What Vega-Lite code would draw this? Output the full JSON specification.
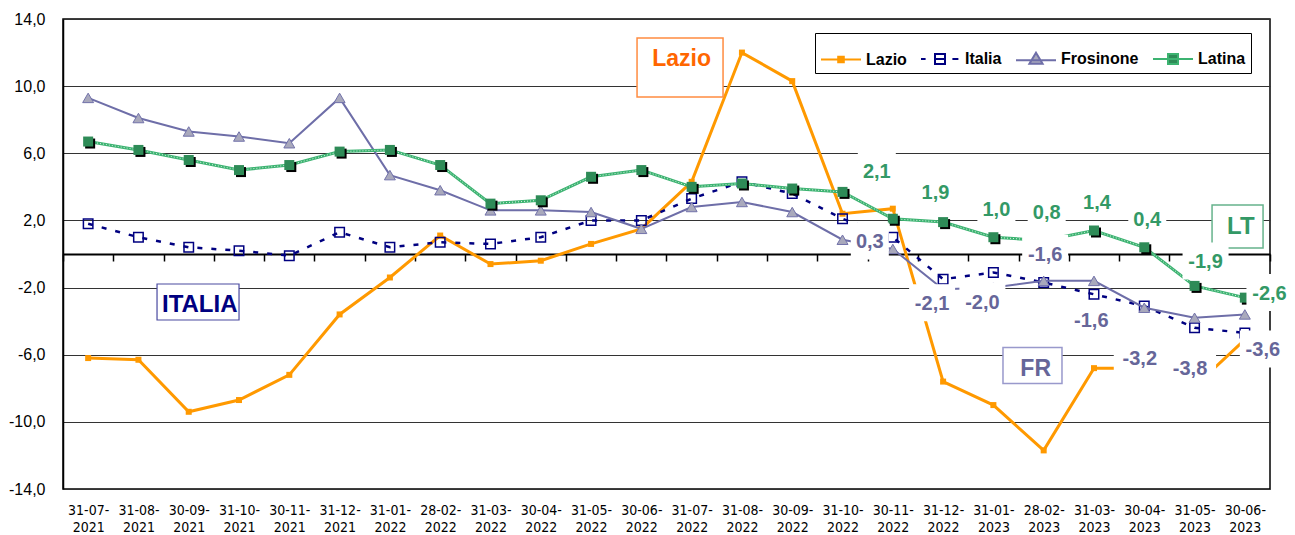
{
  "$schema": "https://vega.github.io/schema/vega-lite/v6.json",
  "width": 1207,
  "height": 470,
  "autosize": {"type": "none"},
  "padding": {"left": 63, "top": 19, "right": 25, "bottom": 46},
  "background": "white",
  "config": {
    "locale": {"number": {"decimal": ",", "thousands": ".", "grouping": [3], "currency": ["", " €"], "minus": "-"}},
    "view": {"stroke": "#000", "strokeWidth": 1.5},
    "font": "Liberation Sans"
  },
  "data": {
    "values": [
      {"d": "31-07-2021", "Lazio": -6.2, "Italia": 1.8, "Frosinone": 9.3, "Latina": 6.7},
      {"d": "31-08-2021", "Lazio": -6.3, "Italia": 1.0, "Frosinone": 8.1, "Latina": 6.2},
      {"d": "30-09-2021", "Lazio": -9.4, "Italia": 0.4, "Frosinone": 7.3, "Latina": 5.6},
      {"d": "31-10-2021", "Lazio": -8.7, "Italia": 0.2, "Frosinone": 7.0, "Latina": 5.0},
      {"d": "30-11-2021", "Lazio": -7.2, "Italia": -0.1, "Frosinone": 6.6, "Latina": 5.3},
      {"d": "31-12-2021", "Lazio": -3.6, "Italia": 1.3, "Frosinone": 9.3, "Latina": 6.1},
      {"d": "31-01-2022", "Lazio": -1.4, "Italia": 0.4, "Frosinone": 4.7, "Latina": 6.2},
      {"d": "28-02-2022", "Lazio": 1.1, "Italia": 0.7, "Frosinone": 3.8, "Latina": 5.3},
      {"d": "31-03-2022", "Lazio": -0.6, "Italia": 0.6, "Frosinone": 2.6, "Latina": 3.0},
      {"d": "30-04-2022", "Lazio": -0.4, "Italia": 1.0, "Frosinone": 2.6, "Latina": 3.2},
      {"d": "31-05-2022", "Lazio": 0.6, "Italia": 2.0, "Frosinone": 2.5, "Latina": 4.6},
      {"d": "30-06-2022", "Lazio": 1.5, "Italia": 2.0, "Frosinone": 1.5, "Latina": 5.0},
      {"d": "31-07-2022", "Lazio": 4.3, "Italia": 3.3, "Frosinone": 2.8, "Latina": 4.0},
      {"d": "31-08-2022", "Lazio": 12.0, "Italia": 4.3, "Frosinone": 3.1, "Latina": 4.2},
      {"d": "30-09-2022", "Lazio": 10.3, "Italia": 3.6, "Frosinone": 2.5, "Latina": 3.9},
      {"d": "31-10-2022", "Lazio": 2.4, "Italia": 2.1, "Frosinone": 0.85, "Latina": 3.7},
      {"d": "30-11-2022", "Lazio": 2.7, "Italia": 1.0, "Frosinone": 0.3, "Latina": 2.1},
      {"d": "31-12-2022", "Lazio": -7.6, "Italia": -1.5, "Frosinone": -2.1, "Latina": 1.9},
      {"d": "31-01-2023", "Lazio": -9.0, "Italia": -1.1, "Frosinone": -2.0, "Latina": 1.0},
      {"d": "28-02-2023", "Lazio": -11.7, "Italia": -1.7, "Frosinone": -1.6, "Latina": 0.8},
      {"d": "31-03-2023", "Lazio": -6.8, "Italia": -2.4, "Frosinone": -1.6, "Latina": 1.4},
      {"d": "30-04-2023", "Lazio": -6.8, "Italia": -3.1, "Frosinone": -3.2, "Latina": 0.4},
      {"d": "31-05-2023", "Lazio": -7.9, "Italia": -4.4, "Frosinone": -3.8, "Latina": -1.9},
      {"d": "30-06-2023", "Lazio": -5.1, "Italia": -4.7, "Frosinone": -3.6, "Latina": -2.6}
    ]
  },
  "encoding": {
    "x": {
      "field": "d",
      "type": "nominal",
      "sort": null,
      "scale": {"type": "band", "paddingInner": 0, "paddingOuter": 0},
      "axis": {
        "title": null,
        "orient": "bottom",
        "offset": -235,
        "domain": true,
        "domainColor": "#000",
        "domainWidth": 2,
        "ticks": true,
        "tickBand": "extent",
        "tickSize": 7,
        "tickColor": "#000",
        "tickWidth": 1.5,
        "grid": false,
        "labelAngle": 0,
        "labelPadding": 242,
        "labelFont": "Liberation Sans Narrow, DejaVu Sans Condensed, sans-serif",
        "labelFontSize": 14,
        "labelLineHeight": 17,
        "labelColor": "#000",
        "labelOverlap": false,
        "labelBound": false,
        "labelExpr": "[slice(datum.label, 0, 6), slice(datum.label, 6)]"
      }
    }
  },
  "layer": [
    {
      "mark": {"type": "line", "color": "#FF9900", "strokeWidth": 3, "point": {"shape": "square", "size": 36, "filled": true, "color": "#FF9900"}},
      "encoding": {
        "y": {
          "field": "Lazio",
          "type": "quantitative",
          "scale": {"domain": [-14, 14], "nice": false, "zero": false},
          "axis": {
            "title": null,
            "values": [-14, -10, -6, -2, 2, 6, 10, 14],
            "format": ".1f",
            "grid": true,
            "gridColor": "#333",
            "gridWidth": 1,
            "ticks": false,
            "domain": true,
            "domainColor": "#000",
            "domainWidth": 1.5,
            "labelPadding": 18,
            "labelFont": "Liberation Sans",
            "labelFontSize": 16,
            "labelColor": "#000"
          }
        }
      }
    },
    {
      "encoding": {"y": {"field": "Italia", "type": "quantitative", "scale": {"domain": [-14, 14], "nice": false, "zero": false}}},
      "layer": [
        {"mark": {"type": "line", "color": "#000080", "strokeWidth": 2.5, "strokeDash": [5, 9]}},
        {"mark": {"type": "point", "shape": "square", "size": 90, "filled": false, "stroke": "#000080", "strokeWidth": 1.5, "opacity": 1}}
      ]
    },
    {
      "encoding": {"y": {"field": "Frosinone", "type": "quantitative", "scale": {"domain": [-14, 14], "nice": false, "zero": false}}},
      "layer": [
        {"mark": {"type": "line", "color": "#6E6EA8", "strokeWidth": 2}},
        {"mark": {"type": "point", "shape": "triangle-up", "size": 120, "filled": true, "fill": "#A9A9BC", "stroke": "#7272AA", "strokeWidth": 1, "opacity": 1}}
      ]
    },
    {
      "encoding": {"y": {"field": "Latina", "type": "quantitative", "scale": {"domain": [-14, 14], "nice": false, "zero": false}}},
      "layer": [
        {"mark": {"type": "line", "color": "#3CB371", "strokeWidth": 3}},
        {"mark": {"type": "line", "color": "#ffffff", "strokeWidth": 1, "strokeDash": [1, 2], "opacity": 0.8}},
        {"mark": {"type": "point", "shape": "square", "size": 100, "filled": true, "color": "#000", "opacity": 1, "xOffset": 2, "yOffset": 2}},
        {"mark": {"type": "point", "shape": "square", "size": 100, "filled": true, "color": "#2E8B57", "opacity": 1}}
      ]
    },
    {
      "data": {"values": [{}]},
      "encoding": {"x": {"datum": "31-07-2022"}, "y": {"datum": 11.11}},
      "layer": [
        {"mark": {"type": "point", "shape": "M-1,-0.686H1V0.686H-1Z", "size": 7396, "filled": true, "fill": "#fff", "stroke": "#FF8C40", "strokeWidth": 1.5, "opacity": 1, "xOffset": -11.6}},
        {"mark": {"type": "text", "text": "Lazio", "font": "Liberation Sans", "fontSize": 23, "fontWeight": "bold", "color": "#FF6600", "xOffset": -10, "yOffset": -8.5}}
      ]
    },
    {
      "data": {"values": [{}]},
      "encoding": {"x": {"datum": "30-09-2021"}, "y": {"datum": -2.86}},
      "layer": [
        {"mark": {"type": "point", "shape": "M-1,-0.439H1V0.439H-1Z", "size": 6724, "filled": true, "fill": "#fff", "stroke": "#4A4AA0", "strokeWidth": 1.2, "opacity": 1, "xOffset": 9.3}},
        {"mark": {"type": "text", "text": "ITALIA", "font": "Liberation Sans", "fontSize": 24, "fontWeight": "bold", "color": "#000080", "xOffset": 11, "yOffset": 3}}
      ]
    },
    {
      "data": {"values": [{}]},
      "encoding": {"x": {"datum": "30-06-2023"}, "y": {"datum": 1.64}},
      "layer": [
        {"mark": {"type": "point", "shape": "M-1,-0.843H1V0.843H-1Z", "size": 2601, "filled": true, "fill": "#fff", "stroke": "#66B38C", "strokeWidth": 1.5, "opacity": 1, "xOffset": -7.3}},
        {"mark": {"type": "text", "text": "LT", "font": "Liberation Sans", "fontSize": 24, "fontWeight": "bold", "color": "#339966", "xOffset": -4, "yOffset": 0.5}}
      ]
    },
    {
      "data": {"values": [{}]},
      "encoding": {"x": {"datum": "28-02-2023"}, "y": {"datum": -6.64}},
      "layer": [
        {"mark": {"type": "point", "shape": "M-1,-0.61H1V0.61H-1Z", "size": 3481, "filled": true, "fill": "#fff", "stroke": "#9999CC", "strokeWidth": 1.5, "opacity": 1, "xOffset": -11.2}},
        {"mark": {"type": "text", "text": "FR", "font": "Liberation Sans", "fontSize": 23, "fontWeight": "bold", "color": "#666699", "xOffset": -8, "yOffset": 3.5}}
      ]
    },
    {
      "transform": [{"filter": {"field": "d", "oneOf": ["31-01-2023", "28-02-2023", "31-03-2023", "30-04-2023"]}}],
      "encoding": {"y": {"field": "Latina", "type": "quantitative", "scale": {"domain": [-14, 14], "nice": false, "zero": false}}},
      "layer": [
        {"mark": {"type": "point", "shape": "M-1,-1.053H1V0.895H-1Z", "size": 1444, "filled": true, "fill": "#fff", "strokeWidth": 0, "opacity": 1, "xOffset": 3, "yOffset": -27.5}},
        {"mark": {"type": "text", "fontSize": 20, "fontWeight": "bold", "color": "#339966", "xOffset": 3, "yOffset": -27.5}, "encoding": {"text": {"field": "Latina", "format": ".1f"}}}
      ]
    },
    {
      "transform": [{"filter": {"field": "d", "oneOf": ["30-11-2022"]}}],
      "encoding": {"y": {"field": "Latina", "type": "quantitative", "scale": {"domain": [-14, 14], "nice": false, "zero": false}}},
      "layer": [
        {"mark": {"type": "point", "shape": "M-1,-1.053H1V0.895H-1Z", "size": 1444, "filled": true, "fill": "#fff", "strokeWidth": 0, "opacity": 1, "xOffset": -16, "yOffset": -47}},
        {"mark": {"type": "text", "fontSize": 20, "fontWeight": "bold", "color": "#339966", "xOffset": -16, "yOffset": -47}, "encoding": {"text": {"field": "Latina", "format": ".1f"}}}
      ]
    },
    {
      "transform": [{"filter": {"field": "d", "oneOf": ["31-12-2022"]}}],
      "encoding": {"y": {"field": "Latina", "type": "quantitative", "scale": {"domain": [-14, 14], "nice": false, "zero": false}}},
      "layer": [
        {"mark": {"type": "point", "shape": "M-1,-1.053H1V0.895H-1Z", "size": 1444, "filled": true, "fill": "#fff", "strokeWidth": 0, "opacity": 1, "xOffset": -7.6, "yOffset": -29}},
        {"mark": {"type": "text", "fontSize": 20, "fontWeight": "bold", "color": "#339966", "xOffset": -7.6, "yOffset": -29}, "encoding": {"text": {"field": "Latina", "format": ".1f"}}}
      ]
    },
    {
      "transform": [{"filter": {"field": "d", "oneOf": ["31-05-2023"]}}],
      "encoding": {"y": {"field": "Latina", "type": "quantitative", "scale": {"domain": [-14, 14], "nice": false, "zero": false}}},
      "layer": [
        {"mark": {"type": "point", "shape": "M-1,-0.870H1V0.739H-1Z", "size": 2116, "filled": true, "fill": "#fff", "strokeWidth": 0, "opacity": 1, "xOffset": 11, "yOffset": -23.4}},
        {"mark": {"type": "text", "fontSize": 20, "fontWeight": "bold", "color": "#339966", "xOffset": 11, "yOffset": -23.4}, "encoding": {"text": {"field": "Latina", "format": ".1f"}}}
      ]
    },
    {
      "transform": [{"filter": {"field": "d", "oneOf": ["30-06-2023"]}}],
      "encoding": {"y": {"field": "Latina", "type": "quantitative", "scale": {"domain": [-14, 14], "nice": false, "zero": false}}},
      "layer": [
        {"mark": {"type": "point", "shape": "M-1,-0.870H1V0.739H-1Z", "size": 2116, "filled": true, "fill": "#fff", "strokeWidth": 0, "opacity": 1, "xOffset": 24.6, "yOffset": -3.6}},
        {"mark": {"type": "text", "fontSize": 20, "fontWeight": "bold", "color": "#339966", "xOffset": 24.6, "yOffset": -3.6}, "encoding": {"text": {"field": "Latina", "format": ".1f"}}}
      ]
    },
    {
      "transform": [{"filter": {"field": "d", "oneOf": ["31-12-2022", "31-01-2023"]}}],
      "encoding": {"y": {"field": "Frosinone", "type": "quantitative", "scale": {"domain": [-14, 14], "nice": false, "zero": false}}},
      "layer": [
        {"mark": {"type": "point", "shape": "M-1,-0.870H1V0.739H-1Z", "size": 2116, "filled": true, "fill": "#fff", "strokeWidth": 0, "opacity": 1, "xOffset": -11, "yOffset": 15}},
        {"mark": {"type": "text", "fontSize": 20, "fontWeight": "bold", "color": "#666699", "xOffset": -11, "yOffset": 15}, "encoding": {"text": {"field": "Frosinone", "format": ".1f"}}}
      ]
    },
    {
      "transform": [{"filter": {"field": "d", "oneOf": ["30-04-2023", "31-05-2023"]}}],
      "encoding": {"y": {"field": "Frosinone", "type": "quantitative", "scale": {"domain": [-14, 14], "nice": false, "zero": false}}},
      "layer": [
        {"mark": {"type": "point", "shape": "M-1,-0.77H1V0.885H-1Z", "size": 2704, "filled": true, "fill": "#fff", "strokeWidth": 0, "opacity": 1, "xOffset": -4.5, "yOffset": 51}},
        {"mark": {"type": "text", "fontSize": 20, "fontWeight": "bold", "color": "#666699", "xOffset": -4.5, "yOffset": 51}, "encoding": {"text": {"field": "Frosinone", "format": ".1f"}}}
      ]
    },
    {
      "transform": [{"filter": {"field": "d", "oneOf": ["30-11-2022"]}}],
      "encoding": {"y": {"field": "Frosinone", "type": "quantitative", "scale": {"domain": [-14, 14], "nice": false, "zero": false}}},
      "layer": [
        {"mark": {"type": "point", "shape": "M-1,-1.053H1V0.895H-1Z", "size": 1444, "filled": true, "fill": "#fff", "strokeWidth": 0, "opacity": 1, "xOffset": -23, "yOffset": -6.5}},
        {"mark": {"type": "text", "fontSize": 20, "fontWeight": "bold", "color": "#666699", "xOffset": -23, "yOffset": -6.5}, "encoding": {"text": {"field": "Frosinone", "format": ".1f"}}}
      ]
    },
    {
      "transform": [{"filter": {"field": "d", "oneOf": ["28-02-2023"]}}],
      "encoding": {"y": {"field": "Frosinone", "type": "quantitative", "scale": {"domain": [-14, 14], "nice": false, "zero": false}}},
      "layer": [
        {"mark": {"type": "point", "shape": "M-1,-0.870H1V0.739H-1Z", "size": 2116, "filled": true, "fill": "#fff", "strokeWidth": 0, "opacity": 1, "xOffset": 1.5, "yOffset": -26}},
        {"mark": {"type": "text", "fontSize": 20, "fontWeight": "bold", "color": "#666699", "xOffset": 1.5, "yOffset": -26}, "encoding": {"text": {"field": "Frosinone", "format": ".1f"}}}
      ]
    },
    {
      "transform": [{"filter": {"field": "d", "oneOf": ["31-03-2023"]}}],
      "encoding": {"y": {"field": "Frosinone", "type": "quantitative", "scale": {"domain": [-14, 14], "nice": false, "zero": false}}},
      "layer": [
        {"mark": {"type": "point", "shape": "M-1,-0.870H1V0.739H-1Z", "size": 2116, "filled": true, "fill": "#fff", "strokeWidth": 0, "opacity": 1, "xOffset": -2.7, "yOffset": 40}},
        {"mark": {"type": "text", "fontSize": 20, "fontWeight": "bold", "color": "#666699", "xOffset": -2.7, "yOffset": 40}, "encoding": {"text": {"field": "Frosinone", "format": ".1f"}}}
      ]
    },
    {
      "transform": [{"filter": {"field": "d", "oneOf": ["30-06-2023"]}}],
      "encoding": {"y": {"field": "Frosinone", "type": "quantitative", "scale": {"domain": [-14, 14], "nice": false, "zero": false}}},
      "layer": [
        {"mark": {"type": "point", "shape": "M-1,-0.870H1V0.739H-1Z", "size": 2116, "filled": true, "fill": "#fff", "strokeWidth": 0, "opacity": 1, "xOffset": 18, "yOffset": 36}},
        {"mark": {"type": "text", "fontSize": 20, "fontWeight": "bold", "color": "#666699", "xOffset": 18, "yOffset": 36}, "encoding": {"text": {"field": "Frosinone", "format": ".1f"}}}
      ]
    },
    {
      "transform": [
        {"fold": ["Lazio", "Italia", "Frosinone", "Latina"], "as": ["s", "v"]},
        {"filter": "datum.v > 100"}
      ],
      "mark": {"type": "point", "opacity": 1, "filled": true},
      "encoding": {
        "y": {"field": "v", "type": "quantitative", "scale": {"domain": [-14, 14], "nice": false, "zero": false}},
        "shape": {
          "field": "s",
          "type": "nominal",
          "scale": {
            "domain": ["Lazio", "Italia", "Frosinone", "Latina"],
            "range": [
              "M-1,0H1M-0.14,-0.14H0.14V0.14H-0.14Z",
              "M-0.95,0H-0.72M0.62,0H0.92M-0.25,-0.25H0.25V0.25H-0.25ZM-0.25,0H0.25",
              "M-1,0.05H1M0,-0.33L0.33,0.22H-0.33Z",
              "M-1,0H1M-0.25,-0.25H0.25V0.25H-0.25Z"
            ]
          },
          "legend": {
            "orient": "none", "legendX": 752, "legendY": 14, "direction": "horizontal", "columns": 4,
            "title": null, "strokeColor": "#000", "fillColor": "#fff", "padding": 5,
            "symbolSize": 1600, "symbolStrokeWidth": 2, "symbolOpacity": 1,
            "labelFont": "Liberation Sans", "labelFontSize": 16, "labelFontWeight": "bold", "labelColor": "#000",
            "labelOffset": 4, "columnPadding": 10
          }
        },
        "stroke": {
          "field": "s",
          "type": "nominal",
          "scale": {"domain": ["Lazio", "Italia", "Frosinone", "Latina"], "range": ["#FF9900", "#000080", "#6E6EA8", "#3CB371"]},
          "legend": {
            "orient": "none", "legendX": 752, "legendY": 14, "direction": "horizontal", "columns": 4,
            "title": null, "strokeColor": "#000", "fillColor": "#fff", "padding": 5,
            "symbolSize": 1600, "symbolStrokeWidth": 2, "symbolOpacity": 1,
            "labelFont": "Liberation Sans", "labelFontSize": 16, "labelFontWeight": "bold", "labelColor": "#000",
            "labelOffset": 4, "columnPadding": 10
          }
        },
        "fill": {
          "field": "s",
          "type": "nominal",
          "scale": {"domain": ["Lazio", "Italia", "Frosinone", "Latina"], "range": ["#FF9900", "#ffffff", "#A9A9BC", "#2E8B57"]},
          "legend": {
            "orient": "none", "legendX": 752, "legendY": 14, "direction": "horizontal", "columns": 4,
            "title": null, "strokeColor": "#000", "fillColor": "#fff", "padding": 5,
            "symbolSize": 1600, "symbolStrokeWidth": 2, "symbolOpacity": 1,
            "labelFont": "Liberation Sans", "labelFontSize": 16, "labelFontWeight": "bold", "labelColor": "#000",
            "labelOffset": 4, "columnPadding": 10
          }
        }
      }
    }
  ]
}
